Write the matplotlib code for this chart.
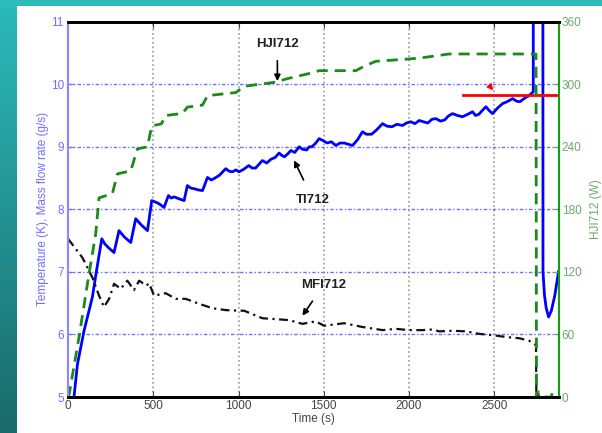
import numpy as np
import matplotlib
matplotlib.use("Agg")
import matplotlib.pyplot as plt
from matplotlib.patches import Rectangle

plt.rcParams['font.family'] = ['Liberation Sans', 'DejaVu Sans']

# TI712 temperature (K)
ti_t = [35, 55, 94, 143, 166, 198, 215, 240, 270, 299, 330, 368, 397, 430, 466, 491,
        510, 534, 563, 589, 605, 622, 650, 681, 700, 720, 740, 765, 789, 818, 840,
        862, 890, 925, 945, 964, 985, 1003, 1030, 1060, 1080, 1100, 1120, 1140, 1165,
        1190, 1215, 1238, 1255, 1270, 1290, 1307, 1330, 1356, 1375, 1400, 1415, 1430,
        1450, 1473, 1495, 1520, 1545, 1571, 1595, 1620, 1645, 1669, 1700, 1727, 1750,
        1780, 1810, 1845, 1870, 1900, 1930, 1962, 1985, 2010, 2035, 2060, 2085, 2110,
        2135, 2158, 2185, 2210, 2230, 2255, 2285, 2314, 2345, 2373, 2390, 2410, 2430,
        2451, 2470, 2490, 2520, 2549, 2575, 2608, 2630, 2650, 2680, 2705, 2729,
        2729, 2785, 2786, 2795, 2805, 2819, 2835, 2855, 2877]
ti_v = [5.0, 5.52, 6.06, 6.6, 7.0, 7.53, 7.45, 7.38, 7.31, 7.66, 7.56, 7.47, 7.85, 7.75,
        7.66, 8.14, 8.12, 8.09, 8.03, 8.22, 8.18, 8.2, 8.17, 8.14, 8.38, 8.34, 8.33, 8.31,
        8.3, 8.51, 8.47, 8.5, 8.55, 8.65, 8.61, 8.6, 8.63, 8.6, 8.64, 8.7, 8.66, 8.66, 8.72,
        8.78, 8.74, 8.8, 8.83, 8.9, 8.86, 8.84, 8.89, 8.94, 8.91, 9.0, 8.96, 8.95, 9.0, 9.0,
        9.05, 9.13, 9.1, 9.06, 9.08, 9.02, 9.06, 9.06, 9.04, 9.02, 9.12, 9.24, 9.2, 9.2,
        9.27, 9.37, 9.33, 9.32, 9.36, 9.34, 9.38, 9.4, 9.37, 9.42, 9.4, 9.38, 9.44, 9.45,
        9.41, 9.43, 9.49, 9.53, 9.5, 9.48, 9.52, 9.56, 9.5, 9.52, 9.58, 9.64, 9.58, 9.53,
        9.62, 9.69, 9.72, 9.77, 9.73, 9.72, 9.78, 9.82, 9.88,
        14.0, 14.0, 7.0, 6.62, 6.42, 6.28, 6.38, 6.62, 7.0]

# HJI712 heater power (W)
hj_t = [0, 6, 64, 123, 162, 182, 260, 290, 368, 407, 466, 491, 548, 573, 671, 700,
        789, 818, 925, 984, 1033, 1219, 1278, 1434, 1473, 1688, 1747, 1806, 1982, 2060,
        2236, 2745, 2748, 2762, 2800, 2835, 2840, 2880]
hj_w = [0, 2, 57, 118, 156, 191, 195, 214, 217, 238, 240, 260, 262, 270, 272, 278,
        280, 289, 291, 292, 298, 302, 305, 311, 313, 313, 318, 322, 324, 325,
        329, 329, 0, 5, 0, 0, 4, 4]

# MFI712 mass flow rate (g/s)
mf_t = [0, 84, 143, 182, 211, 241, 270, 309, 348, 387, 417, 460, 475, 505, 573, 632,
        690, 769, 847, 925, 1003, 1033, 1140, 1297, 1375, 1453, 1502, 1619, 1727, 1845,
        1923, 2001, 2080, 2138, 2177, 2255, 2334, 2412, 2490, 2568, 2647, 2705, 2745,
        2747, 2790]
mf_v = [7.53, 7.23, 6.91, 6.62, 6.44, 6.57, 6.81, 6.73, 6.86, 6.71, 6.86, 6.78, 6.82,
        6.62, 6.66, 6.57, 6.57, 6.49, 6.42, 6.39, 6.38, 6.38, 6.26, 6.23, 6.17, 6.21,
        6.14, 6.18, 6.12, 6.07, 6.09, 6.07, 6.07, 6.08, 6.05, 6.06, 6.05, 6.01, 5.99,
        5.96, 5.94, 5.9, 5.83, 5.03, 5.03]

# set point line
sp_t = [2314, 2880]
sp_v = [9.83, 9.83]

x_ticks = [0, 500, 1000, 1500, 2000, 2500]
y_ticks = [5, 6, 7, 8, 9, 10, 11]
w_ticks = [0, 60, 120, 180, 240, 300, 360]

BLUE_TXT = '#6f6fff'
GREEN_TXT = '#6aaa6a'

fig = plt.figure(figsize=(6.02, 4.33), dpi=100, facecolor='white')

# slide frame: teal band on top, gradient strip on the left
bg = fig.add_axes([0, 0, 1, 1], zorder=-10)
bg.set_xlim(0, 602)
bg.set_ylim(433, 0)
bg.axis('off')
grad = np.linspace(0, 1, 256).reshape(-1, 1)
cmap = matplotlib.colors.LinearSegmentedColormap.from_list('strip', ['#2cbaba', '#1b6a6a'])
bg.imshow(grad, cmap=cmap, extent=[0, 17, 433, 0], aspect='auto')
bg.add_patch(Rectangle((0, 0), 602, 6, color='#2cbaba', lw=0))

ax = fig.add_axes([0.113, 0.083, 0.8156, 0.867])
ax2 = ax.twinx()

ax.plot(ti_t, ti_v, color='#0000ff', lw=2, zorder=3)
ax.plot(mf_t, mf_v, color='#111111', lw=1.6, ls=(0, (4, 2, 1, 2)), zorder=3)
ax.plot(sp_t, sp_v, color='red', lw=2, zorder=4)
ax2.plot(hj_t, hj_w, color='#1a8a1a', lw=2, ls=(0, (4, 2.5)))

ax.set_xlim(0, 2880)
ax.set_ylim(5, 11)
ax2.set_ylim(0, 360)
ax.set_xticks(x_ticks)
ax.set_yticks(y_ticks)
ax2.set_yticks(w_ticks)

ax.xaxis.grid(True, color='#9a9a9a', ls=':', lw=1.2)
ax.yaxis.grid(True, color='#7070ff', ls=(0, (2.5, 1.5, 1, 1.5)), lw=1)
ax.set_axisbelow(True)

ax.tick_params(axis='x', direction='in', top=True, colors='#444444', labelsize=8.5,
               length=4, pad=2)
ax.tick_params(axis='y', direction='in', colors=BLUE_TXT, labelsize=8.5, length=4, pad=3)
ax2.tick_params(axis='y', direction='in', colors=GREEN_TXT, labelsize=8.5, length=4, pad=2)

for a in (ax, ax2):
    a.spines['top'].set_color('black')
    a.spines['top'].set_linewidth(2)
    a.spines['bottom'].set_color('black')
    a.spines['bottom'].set_linewidth(2)
    a.spines['left'].set_color('#8a8aff')
    a.spines['left'].set_linewidth(1.5)
    a.spines['right'].set_color('#1a9a1a')
    a.spines['right'].set_linewidth(1.5)

ax.set_xlabel('Time (s)', color='#444444', fontsize=8.5, labelpad=1)
ax.set_ylabel('Temperature (K), Mass flow rate (g/s)', color=BLUE_TXT, fontsize=8.5,
              labelpad=1)
ax2.set_ylabel('HJI712 (W)', color=GREEN_TXT, fontsize=8.5, labelpad=6)

arrow = dict(arrowstyle='-|>', color='black', lw=1.2, mutation_scale=9)
ax2.annotate('HJI712', xy=(1228, 303), xytext=(1228, 339), textcoords='data',
             ha='center', va='center', fontsize=9.5, fontweight='bold', color='#222222',
             arrowprops=dict(arrow, shrinkA=6, shrinkB=0))
ax2.annotate('TI712', xy=(1326, 227), xytext=(1438, 189), textcoords='data',
             ha='center', va='center', fontsize=9.5, fontweight='bold', color='#222222',
             arrowprops=dict(arrow, shrinkA=9, shrinkB=0))
ax2.annotate('MFI712', xy=(1375, 78), xytext=(1497, 107), textcoords='data',
             ha='center', va='center', fontsize=9.5, fontweight='bold', color='#222222',
             arrowprops=dict(arrow, shrinkA=6, shrinkB=0))
ax2.annotate('', xy=(2505, 292), xytext=(2470, 299),
             arrowprops=dict(arrowstyle='-|>', color='red', lw=1, mutation_scale=9))

fig.savefig('out.png', dpi=100, facecolor='white')
